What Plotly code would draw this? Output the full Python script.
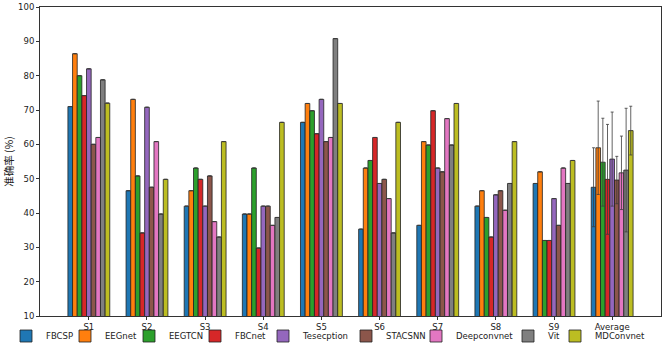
import plotly.graph_objects as go

categories = ["S1", "S2", "S3", "S4", "S5", "S6", "S7", "S8", "S9", "Average"]
series_names = ["FBCSP", "EEGnet", "EEGTCN", "FBCnet", "Tesecption", "STACSNN", "Deepconvnet", "Vit", "MDConvnet"]

FBCSP = [71.0, 46.5, 42.0, 39.7, 66.4, 35.3, 36.4, 42.0, 48.6, 47.5]
EEGnet = [86.4, 73.1, 46.5, 39.7, 71.9, 53.1, 60.8, 46.5, 52.0, 59.0]
EEGTCN = [80.0, 50.8, 53.1, 53.1, 69.8, 55.3, 59.8, 38.7, 32.0, 54.8]
FBCnet = [74.2, 34.2, 49.8, 29.8, 63.1, 62.0, 69.8, 33.0, 32.0, 49.8]
Tesecption = [82.0, 70.8, 42.0, 42.0, 73.1, 48.6, 53.1, 45.3, 44.2, 55.7]
STACSNN = [60.0, 47.5, 50.8, 42.0, 60.8, 49.8, 52.0, 46.5, 36.4, 49.6]
Deepconvnet = [62.0, 60.8, 37.5, 36.4, 62.0, 44.2, 67.5, 40.8, 53.1, 51.7]
Vit = [78.8, 39.7, 33.0, 38.7, 90.8, 34.2, 59.8, 48.6, 48.6, 52.5]
MDConvnet = [72.0, 49.8, 60.8, 66.4, 71.9, 66.4, 71.9, 60.8, 55.3, 64.0]

avg_err = [11.5, 13.6, 12.8, 16.0, 13.7, 6.9, 10.7, 18.0, 7.1]

colors = ["#1f77b4", "#ff7f0e", "#2ca02c", "#d62728", "#9467bd",
          "#8c564b", "#e377c2", "#7f7f7f", "#bcbd22"]

# legend text start positions (pixels from figure left)
legend_text_px = [46, 105, 169, 235, 303, 386, 456, 548, 595]

all_values = [FBCSP, EEGnet, EEGTCN, FBCnet, Tesecption, STACSNN, Deepconvnet, Vit, MDConvnet]

W, H = 663, 346
ML, MR, MT, MB = 40, 2, 7, 30
pw = W - ML - MR
ph = H - MT - MB

fig = go.Figure()
layout_legends = {}
for i, (name, vals) in enumerate(zip(series_names, all_values)):
    err = [None] * (len(categories) - 1) + [avg_err[i]]
    lname = "legend" if i == 0 else f"legend{i + 1}"
    fig.add_trace(go.Bar(
        name=name, x=categories, y=vals, legend=lname,
        marker=dict(color=colors[i], line=dict(color="#222222", width=0.8)),
        error_y=dict(type="data", array=err,
                     color="rgba(60,60,60,0.8)", thickness=1, width=1.5),
    ))
    left_px = legend_text_px[i] - 40
    layout_legends[lname] = dict(
        x=(left_px - ML) / pw, xanchor="left",
        y=(MT + ph - 336) / ph, yanchor="middle",
        orientation="h", bgcolor="rgba(0,0,0,0)", borderwidth=0,
        font=dict(size=8.5, family="DejaVu Sans", color="#222"),
        itemwidth=30,
    )

fig.update_layout(
    width=W, height=H,
    barmode="group", bargap=0.28, bargroupgap=0,
    plot_bgcolor="white", paper_bgcolor="white",
    margin=dict(l=ML, r=MR, t=MT, b=MB, autoexpand=False),
    font=dict(family="DejaVu Sans", size=8, color="#222"),
    showlegend=True,
    **layout_legends,
)
fig.update_xaxes(
    range=[-0.84, 9.84], showline=True, linecolor="#333", linewidth=1, mirror=True,
    ticks="outside", ticklen=3, tickcolor="#333", showgrid=False,
    tickfont=dict(size=8.5),
)
fig.update_yaxes(
    range=[10, 100], dtick=10, showline=True, linecolor="#333", linewidth=1, mirror=True,
    ticks="outside", ticklen=3, tickcolor="#333", showgrid=False, zeroline=False,
    tickfont=dict(size=8.5),
    title=dict(text="准确率 (%)", font=dict(family="Noto Sans CJK SC", size=10.5), standoff=2),
)

fig.write_html(
    "out.html",
    config={"displayModeBar": False},
    post_script="document.body.style.margin='0';document.body.style.overflow='hidden';",
)
